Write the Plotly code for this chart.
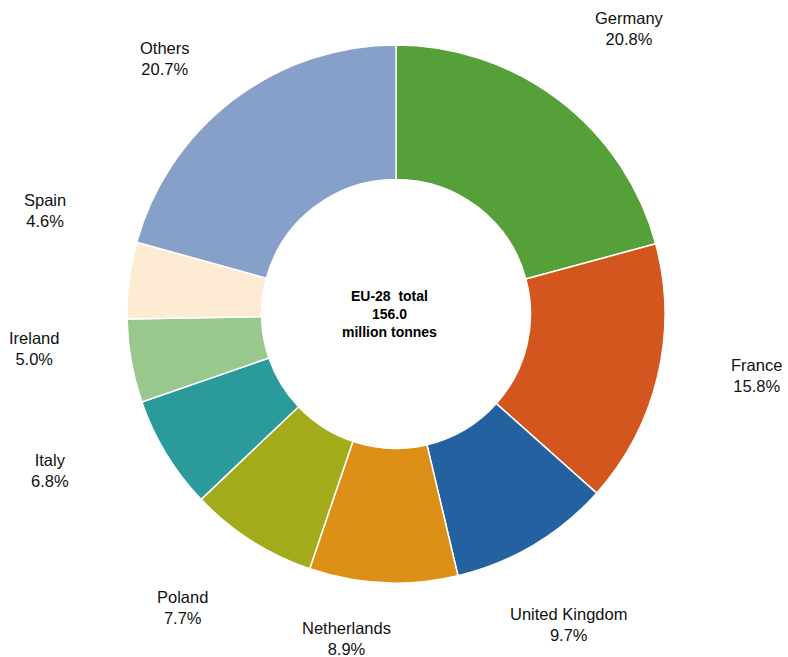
import math
import plotly.graph_objects as go

# EU-28 share by country (%), total 156.0 million tonnes
countries = ["Germany", "France", "United Kingdom", "Netherlands", "Poland",
             "Italy", "Ireland", "Spain", "Others"]
shares = [20.8, 15.8, 9.7, 8.9, 7.7, 6.8, 5.0, 4.6, 20.7]
total_label = "EU-28  total<br>156.0<br>million tonnes"

colors = ["#56a03a", "#d4561f", "#2361a0", "#dc9018", "#a4ab1b",
          "#2a9a9a", "#98c88e", "#fdebd3", "#87a0ca"]

# label placement: radius factor (x outer radius) and angular nudge in degrees
label_radius = [1.37, 1.36, 1.32, 1.22, 1.35, 1.41, 1.35, 1.36, 1.28]
label_shift = [1.8, -3.7, 1.7, 6.0, 3.4, 7.0, 4.7, 9.2, -4.9]

W, H = 788, 657
cx, cy, R = 396, 314, 269  # pie centre and outer radius in pixels

dom_x = [(cx - R) / W, (cx + R) / W]
dom_y = [(H - cy - R) / H, (H - cy + R) / H]

fig = go.Figure(go.Pie(
    labels=countries,
    values=shares,
    sort=False,
    direction="clockwise",
    rotation=0,
    hole=0.50,
    marker=dict(colors=colors, line=dict(color="white", width=1.5)),
    textinfo="none",
    hoverinfo="label+percent",
    domain=dict(x=dom_x, y=dom_y),
    showlegend=False,
))

annotations = []
total = sum(shares)
cum = 0.0
for name, v, rf, sh in zip(countries, shares, label_radius, label_shift):
    mid = (cum + v / 2) / total * 360.0 + sh
    cum += v
    a = math.radians(mid)
    px = cx + rf * R * math.sin(a)
    py = cy - rf * R * math.cos(a)
    annotations.append(dict(
        x=px / W, y=1 - py / H, xref="paper", yref="paper",
        text=f"{name}<br>{v:.1f}%", showarrow=False,
        xanchor="center", yanchor="middle", align="center",
        font=dict(family="Liberation Sans, Arial, sans-serif", size=16.5, color="#111111"),
    ))

annotations.append(dict(
    x=(cx - 7) / W, y=1 - cy / H, xref="paper", yref="paper",
    text=f"<b>{total_label}</b>", showarrow=False,
    xanchor="center", yanchor="middle", align="center",
    font=dict(family="Liberation Sans, Arial, sans-serif", size=14, color="#000000"),
))

fig.update_layout(
    width=W, height=H,
    margin=dict(l=0, r=0, t=0, b=0),
    paper_bgcolor="white", plot_bgcolor="white",
    annotations=annotations,
)

fig.write_html("out.html")
